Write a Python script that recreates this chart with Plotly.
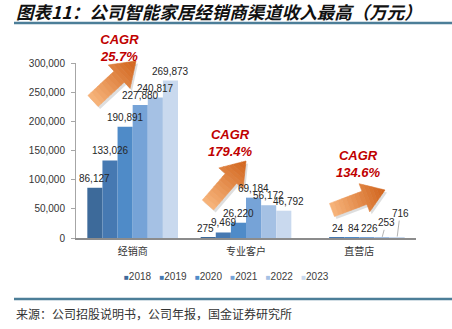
import math
import plotly.graph_objects as go

# ---------------- data ----------------
categories = ["经销商", "专业客户", "直营店"]
years = ["2018", "2019", "2020", "2021", "2022", "2023"]
v2018 = [86127, 275, None]
v2019 = [133026, 9469, 24]
v2020 = [190891, 26220, 84]
v2021 = [227880, 69184, 226]
v2022 = [240817, 56172, 253]
v2023 = [269873, 46792, 716]
series = [v2018, v2019, v2020, v2021, v2022, v2023]
cagr_labels = ["25.7%", "179.4%", "134.6%"]
y_ticks = [0, 50000, 100000, 150000, 200000, 250000, 300000]

# ---------------- style ----------------
colors = ["#3D6A9A", "#4679B2", "#4F8BC8", "#76A3D7", "#A5C1E4", "#C9D9EE"]
W, H = 452, 329
L_M, R_M, T_M, B_M = 76, 36, 63, 91
PW, PH = W - L_M - R_M, H - T_M - B_M
BARGAP = 0.2
LATIN = "Arial, Liberation Sans, sans-serif"
CJK = "Noto Sans CJK SC"
leader_pts = {(2, 4): (4, -15), (2, 5): (3, -24)}   # (cat, series) -> label offset px
label_xshift = {(1, 5): 5, (1, 0): -3, (2, 1): 1, (2, 2): 2, (2, 3): 3}


def px2paper(x, y):
    return (x - L_M) / PW, (H - B_M - y) / PH


fig = go.Figure()
for i, (yr, vals) in enumerate(zip(years, series)):
    fig.add_trace(go.Bar(
        name=yr, x=categories, y=vals, marker=dict(color=colors[i], line=dict(width=0)),
        showlegend=False, hoverinfo="x+y+name",
    ))

annotations = []
bw = (1 - BARGAP) / len(years)
for i, vals in enumerate(series):
    for j, v in enumerate(vals):
        if v is None:
            continue
        xc = j + (i - (len(years) - 1) / 2) * bw
        if (j, i) in leader_pts:
            ax, ay = leader_pts[(j, i)]
            annotations.append(dict(
                x=xc, y=v, xref="x", yref="y", text=f"{v:,}", showarrow=True, arrowhead=0,
                arrowwidth=0.8, arrowcolor="#A0A0A0", ax=ax, ay=ay, standoff=1,
                font=dict(family=LATIN, size=10, color="#262626"),
            ))
        else:
            annotations.append(dict(
                x=xc, y=v, xref="x", yref="y", text=f"{v:,}", showarrow=False,
                xanchor="center", yanchor="bottom", yshift=2,
                xshift=label_xshift.get((j, i), 0),
                font=dict(family=LATIN, size=10, color="#262626"),
            ))

# CAGR labels
cagr_pos = [(119, 48), (230, 143), (358, 164)]
for lab, (cx, cy) in zip(cagr_labels, cagr_pos):
    x, y = px2paper(cx, cy)
    annotations.append(dict(
        x=x, y=y, xref="paper", yref="paper", xanchor="center", yanchor="middle",
        text=f"<b><i>CAGR<br>{lab}</i></b>", showarrow=False, align="center",
        font=dict(family=LATIN, size=13, color="#C00000"),
    ))

# title
x, y = px2paper(14, 11)
annotations.append(dict(
    x=x, y=y, xref="paper", yref="paper", xanchor="left", yanchor="middle",
    text="<b><i>图表11：公司智能家居经销商渠道收入最高（万元）</i></b>", showarrow=False,
    font=dict(family=CJK, size=17.5, color="#111111"),
))
# source
x, y = px2paper(14, 313)
annotations.append(dict(
    x=x, y=y, xref="paper", yref="paper", xanchor="left", yanchor="middle",
    text="来源：公司招股说明书，公司年报，国金证券研究所", showarrow=False,
    font=dict(family=CJK, size=12, color="#333333"),
))
# legend
nb = "\u00a0"
leg = (nb * 3).join(f"<span style='color:{c};font-size:8px'>■</span>{yr}" for c, yr in zip(colors, years))
x, y = px2paper(226, 276)
annotations.append(dict(
    x=x, y=y, xref="paper", yref="paper", xanchor="center", yanchor="middle",
    text=leg, showarrow=False, font=dict(family=LATIN, size=10, color="#404040"),
))

# ---------------- shapes ----------------
shapes = []
for yy in (23, 299):
    x0, y0 = px2paper(14, yy)
    x1, _ = px2paper(452, yy)
    shapes.append(dict(type="line", xref="paper", yref="paper", x0=x0, x1=x1, y0=y0, y1=y0,
                       line=dict(color="#4C7E98", width=2.5)))


def lerp_color(c0, c1, t):
    a = [int(c0[k:k + 2], 16) for k in (1, 3, 5)]
    b = [int(c1[k:k + 2], 16) for k in (1, 3, 5)]
    return "#" + "".join(f"{round(a[k] + (b[k] - a[k]) * t):02X}" for k in range(3))


def arrow(tx, ty, px, py, w, Wd, Lh, nshaft=8, nhead=6):
    dx, dy = px - tx, py - ty
    ln = math.hypot(dx, dy)
    ux, uy = dx / ln, dy / ln
    nx, ny = -uy, ux

    def pt(s, t, ox=0.0, oy=0.0):
        return px2paper(tx + ux * s + nx * t + ox, ty + uy * s + ny * t + oy)

    def path(pts):
        return "M " + " L ".join(f"{a:.5f},{b:.5f}" for a, b in pts) + " Z"

    out = []
    outline = [(0, w / 2), (ln - Lh, w / 2), (ln - Lh, Wd / 2), (ln, 0), (ln - Lh, -Wd / 2),
               (ln - Lh, -w / 2), (0, -w / 2)]
    out.append(dict(type="path", xref="paper", yref="paper",
                    path=path([pt(s, t, 2, 2.5) for s, t in outline]),
                    fillcolor="rgba(0,0,0,0.13)", line=dict(width=0)))
    sb = ln - Lh
    segs = []
    for k in range(nshaft):
        segs.append((sb * k / nshaft, sb * (k + 1) / nshaft, w / 2, w / 2))
    for k in range(nhead):
        s0, s1 = sb + Lh * k / nhead, sb + Lh * (k + 1) / nhead
        segs.append((s0, s1, Wd / 2 * (ln - s0) / Lh, Wd / 2 * (ln - s1) / Lh))
    for s0, s1, h0, h1 in segs:
        col = lerp_color("#F7B57C", "#D0621A", ((s0 + s1) / 2) / ln)
        pts = [pt(s0, h0), pt(s1, h1), pt(s1, -h1), pt(s0, -h0)]
        out.append(dict(type="path", xref="paper", yref="paper", path=path(pts),
                        fillcolor=col, line=dict(color=col, width=0.6)))
    return out


shapes += arrow(93, 101, 136, 61, 15, 32, 23)
shapes += arrow(208, 205, 246, 161, 15, 32, 23)
shapes += arrow(332, 210, 385, 190, 14, 30, 22)

fig.update_layout(
    width=W, height=H, margin=dict(l=L_M, r=R_M, t=T_M, b=B_M, autoexpand=False),
    paper_bgcolor="white", plot_bgcolor="white",
    barmode="group", bargap=BARGAP, bargroupgap=0,
    annotations=annotations, shapes=shapes, showlegend=False,
    xaxis=dict(showline=True, linecolor="#8C8C8C", linewidth=2, ticks="", showgrid=False,
               tickfont=dict(family=CJK, size=10, color="#333333"), ticklabelstandoff=3),
    yaxis=dict(range=[0, 300000], tickvals=y_ticks, tickformat=",", showgrid=False,
               showline=True, linecolor="#A6A6A6", linewidth=1, ticks="outside", ticklen=4,
               tickcolor="#A6A6A6", zeroline=False, ticklabelstandoff=4,
               tickfont=dict(family=LATIN, size=10, color="#333333")),
)

fig.write_html("out.html")
